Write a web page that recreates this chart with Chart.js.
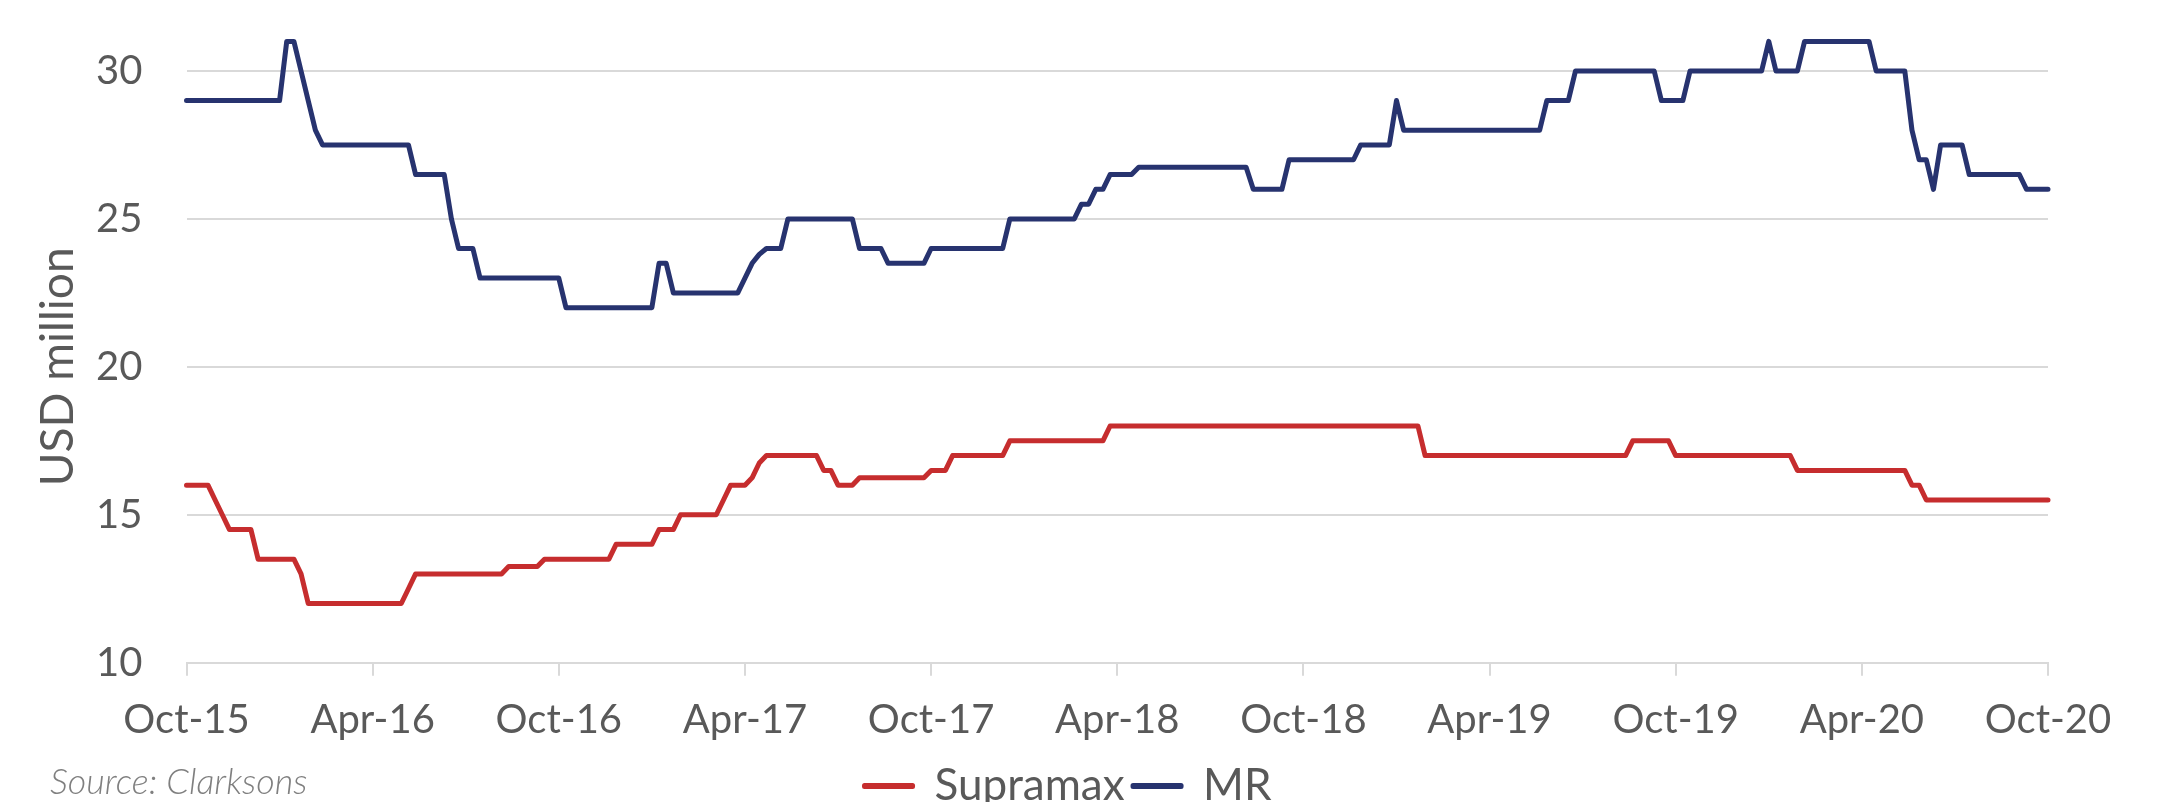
<!DOCTYPE html>
<html><head><meta charset="utf-8">
<script src="https://cdn.jsdelivr.net/npm/chart.js@4"></script>
<style>
html,body{margin:0;padding:0;background:#fff;}
#wrap{position:relative;width:2166px;height:802px;overflow:hidden;}
#source{position:absolute;left:50px;top:758px;font-family:Lato;font-style:italic;font-weight:300;font-size:36px;color:#7f7f7f;white-space:nowrap;}
</style></head><body>
<div id="wrap"><canvas id="c" width="2166" height="802"></canvas><div id="source">Source: Clarksons</div></div>
<script>
// Tick labels (every 26 weeks)
const tickLabels = ['Oct-15','Apr-16','Oct-16','Apr-17','Oct-17','Apr-18','Oct-18','Apr-19','Oct-19','Apr-20','Oct-20'];
const seriesNames = ['Supramax','MR'];
const seriesColors = ['#c62d2e','#27336f'];

// Weekly newbuilding prices, USD million (Oct-15 .. Oct-20)
const supramax = [
16,16,16,16,15.5,15,14.5,14.5,14.5,14.5,
13.5,13.5,13.5,13.5,13.5,13.5,13,12,12,12,
12,12,12,12,12,12,12,12,12,12,
12,12.5,13,13,13,13,13,13,13,13,
13,13,13,13,13,13.25,13.25,13.25,13.25,13.25,
13.5,13.5,13.5,13.5,13.5,13.5,13.5,13.5,13.5,13.5,
14,14,14,14,14,14,14.5,14.5,14.5,15,
15,15,15,15,15,15.5,16,16,16,16.25,
16.75,17,17,17,17,17,17,17,17,16.5,
16.5,16,16,16,16.25,16.25,16.25,16.25,16.25,16.25,
16.25,16.25,16.25,16.25,16.5,16.5,16.5,17,17,17,
17,17,17,17,17,17.5,17.5,17.5,17.5,17.5,
17.5,17.5,17.5,17.5,17.5,17.5,17.5,17.5,17.5,18,
18,18,18,18,18,18,18,18,18,18,
18,18,18,18,18,18,18,18,18,18,
18,18,18,18,18,18,18,18,18,18,
18,18,18,18,18,18,18,18,18,18,
18,18,18,17,17,17,17,17,17,17,
17,17,17,17,17,17,17,17,17,17,
17,17,17,17,17,17,17,17,17,17,
17,17,17.5,17.5,17.5,17.5,17.5,17.5,17,17,
17,17,17,17,17,17,17,17,17,17,
17,17,17,17,17,16.5,16.5,16.5,16.5,16.5,
16.5,16.5,16.5,16.5,16.5,16.5,16.5,16.5,16.5,16.5,
16.5,16,16,15.5,15.5,15.5,15.5,15.5,15.5,15.5,
15.5,15.5,15.5,15.5,15.5,15.5,15.5,15.5,15.5,15.5,
15.5
];
const mr = [
29,29,29,29,29,29,29,29,29,29,
29,29,29,29,31,31,30,29,28,27.5,
27.5,27.5,27.5,27.5,27.5,27.5,27.5,27.5,27.5,27.5,
27.5,27.5,26.5,26.5,26.5,26.5,26.5,25,24,24,
24,23,23,23,23,23,23,23,23,23,
23,23,23,22,22,22,22,22,22,22,
22,22,22,22,22,22,23.5,23.5,22.5,22.5,
22.5,22.5,22.5,22.5,22.5,22.5,22.5,22.5,23,23.5,
23.8,24,24,24,25,25,25,25,25,25,
25,25,25,25,24,24,24,24,23.5,23.5,
23.5,23.5,23.5,23.5,24,24,24,24,24,24,
24,24,24,24,24,25,25,25,25,25,
25,25,25,25,25,25.5,25.5,26,26,26.5,
26.5,26.5,26.5,26.75,26.75,26.75,26.75,26.75,26.75,26.75,
26.75,26.75,26.75,26.75,26.75,26.75,26.75,26.75,26.75,26,
26,26,26,26,27,27,27,27,27,27,
27,27,27,27,27.5,27.5,27.5,27.5,27.5,29,
28,28,28,28,28,28,28,28,28,28,
28,28,28,28,28,28,28,28,28,28,
29,29,29,29,30,30,30,30,30,30,
30,30,30,30,30,30,29,29,29,29,
30,30,30,30,30,30,30,30,30,30,
30,31,30,30,30,30,31,31,31,31,
31,31,31,31,31,31,30,30,30,30,
30,28,27,27,26,27.5,27.5,27.5,27.5,26.5,
26.5,26.5,26.5,26.5,26.5,26.5,26.5,26,26,26,
26
];

// Weekly categories
const weeks = [];
const start = new Date(Date.UTC(2015, 9, 2));
for (let i = 0; i < mr.length; i++) {
  const d = new Date(start.getTime() + i * 7 * 86400000);
  weeks.push(d.toISOString().slice(0, 10));
}

const FONT = 'Lato';
const TXT = '#595959';
const GRID = '#d9d9d9';

new Chart(document.getElementById('c'), {
  type: 'line',
  data: {
    labels: weeks,
    datasets: [
      {label: seriesNames[0], data: supramax, borderColor: seriesColors[0], backgroundColor: seriesColors[0],
       borderWidth: 5, pointRadius: 0, tension: 0, clip: false, borderJoinStyle: 'round', borderCapStyle: 'round'},
      {label: seriesNames[1], data: mr, borderColor: seriesColors[1], backgroundColor: seriesColors[1],
       borderWidth: 5, pointRadius: 0, tension: 0, clip: false, borderJoinStyle: 'round', borderCapStyle: 'round'}
    ]
  },
  options: {
    responsive: false,
    animation: false,
    devicePixelRatio: 1,
    layout: {padding: {left: 88, right: 118, top: 71, bottom: -15.9}},
    plugins: {
      legend: {
        position: 'bottom',
        labels: {boxWidth: 48, boxHeight: 1, padding: 8.4, font: {family: FONT, size: 44}, color: TXT}
      },
      tooltip: {enabled: false}
    },
    scales: {
      x: {
        afterFit: s => { s.height = 92.8; },
        grid: {drawOnChartArea: false, drawTicks: true, tickLength: 13, lineWidth: 2,
               color: c => (c.index % 26 === 0 ? GRID : 'rgba(0,0,0,0)')},
        border: {color: GRID, width: 2},
        ticks: {autoSkip: false, maxRotation: 0, minRotation: 0, padding: 24.7,
                font: {family: FONT, size: 40, lineHeight: 1.0}, color: TXT,
                callback: (v, i) => (i % 26 === 0 ? tickLabels[i / 26] : '')}
      },
      y: {
        min: 10, max: 30,
        afterFit: s => { s.width = 98.5; },
        ticks: {stepSize: 5, padding: 44, font: {family: FONT, size: 40}, color: TXT},
        grid: {color: GRID, lineWidth: 2, drawTicks: false},
        border: {display: false},
        title: {display: true, text: 'USD million', font: {family: FONT, size: 46}, color: TXT,
                padding: {top: -57, bottom: 0}}
      }
    }
  }
});
</script>
</body></html>
